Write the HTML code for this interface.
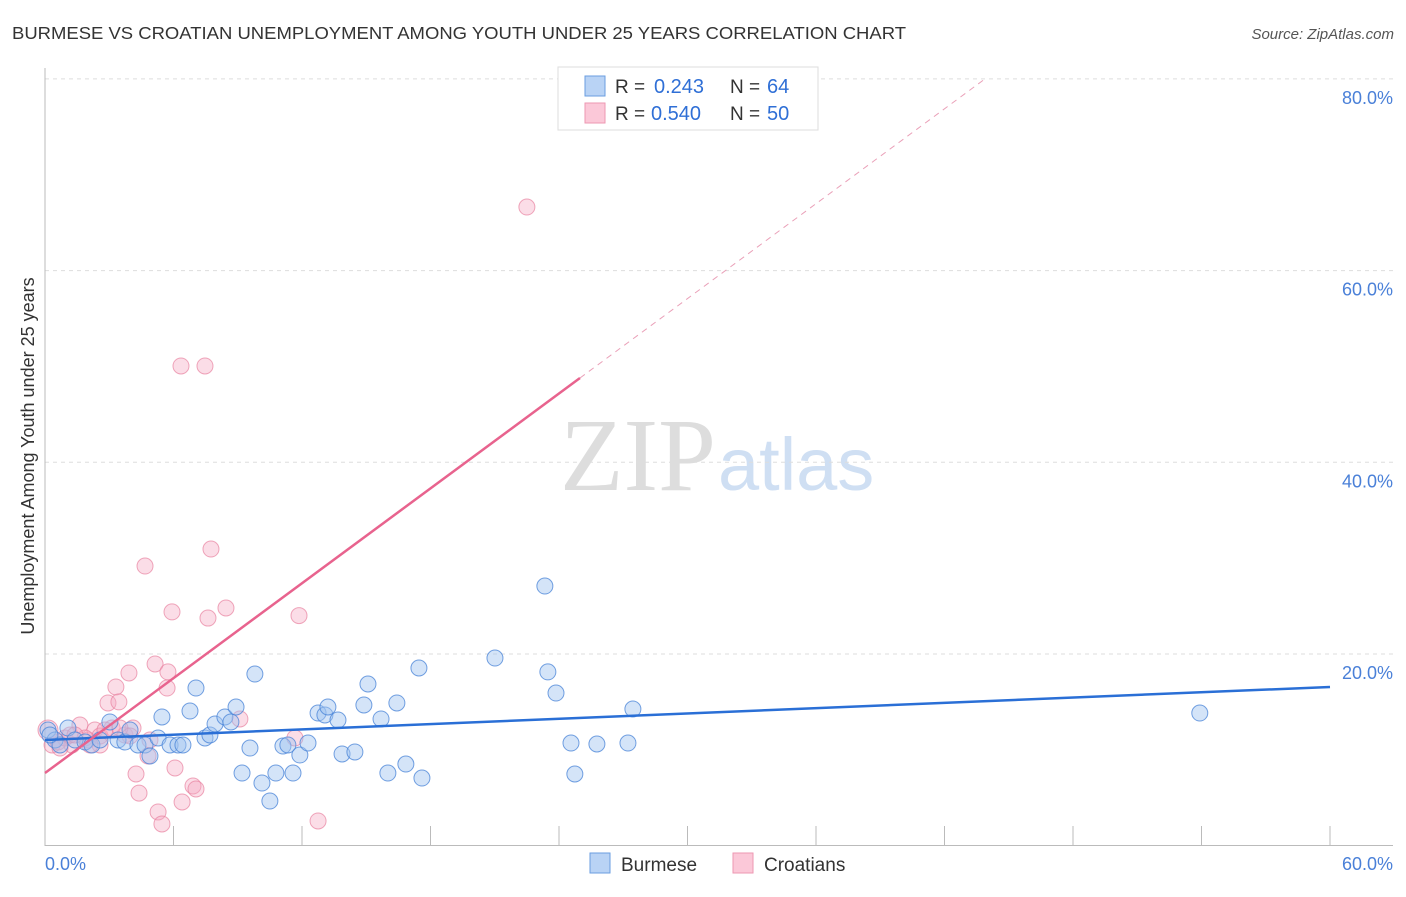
<!DOCTYPE html>
<html><head><meta charset="utf-8"><style>
body{margin:0;background:#fff;font-family:"Liberation Sans",sans-serif}
svg text{font-family:"Liberation Sans",sans-serif}
</style></head><body>
<svg id="c" width="1406" height="892">
<text x="12" y="39" font-size="17.5" fill="#333" textLength="894" lengthAdjust="spacingAndGlyphs">BURMESE VS CROATIAN UNEMPLOYMENT AMONG YOUTH UNDER 25 YEARS CORRELATION CHART</text>
<text x="1394" y="39" font-size="15" fill="#555" font-style="italic" text-anchor="end">Source: ZipAtlas.com</text>
<text x="716" y="490" font-size="104" fill="#ddd" text-anchor="end" style="font-family:'Liberation Serif',serif">ZIP</text>
<text x="718" y="490" font-size="74" fill="#cfdff3">atlas</text>
<g id="grid"></g><g id="marks"></g>
<text transform="translate(34,456) rotate(-90)" font-size="18" fill="#333" text-anchor="middle">Unemployment Among Youth under 25 years</text>
<g>
<rect x="558" y="67" width="260" height="63" fill="#fff" stroke="#ddd"/>
<rect x="585" y="76" width="20" height="20" fill="#b9d3f5" stroke="#6a9ee0"/>
<rect x="585" y="103" width="20" height="20" fill="#fbc8d8" stroke="#ee97b2"/>
<text x="615" y="93" font-size="19" fill="#333">R =</text><text x="654" y="93" font-size="20" fill="#2f6fd6">0.243</text>
<text x="730" y="93" font-size="19" fill="#333">N =</text><text x="767" y="93" font-size="20" fill="#2f6fd6">64</text>
<text x="615" y="120" font-size="19" fill="#333">R =</text><text x="651" y="120" font-size="20" fill="#2f6fd6">0.540</text>
<text x="730" y="120" font-size="19" fill="#333">N =</text><text x="767" y="120" font-size="20" fill="#2f6fd6">50</text>
</g>
<g>
<rect x="590" y="853" width="20" height="20" fill="#b9d3f5" stroke="#6a9ee0"/>
<text x="621" y="871" font-size="19" fill="#333">Burmese</text>
<rect x="733" y="853" width="20" height="20" fill="#fbc8d8" stroke="#ee97b2"/>
<text x="764" y="871" font-size="19" fill="#333">Croatians</text>
</g>
</svg>
<script>
const yTicks=[20,40,60,80];
const yTickLabels=["20.0%","40.0%","60.0%","80.0%"];
const xTickLabels=["0.0%","60.0%"];
const burX=[0.14,0.47,0.70,1.07,1.40,1.87,2.19,2.57,3.03,3.41,3.73,3.97,4.34,4.67,4.90,5.28,5.46,5.84,6.21,6.44,6.77,7.05,7.47,7.70,7.94,8.40,8.68,8.92,9.20,9.57,9.80,10.13,10.50,10.78,11.11,11.34,11.58,11.90,12.28,12.75,13.07,13.21,13.68,13.87,14.47,14.89,15.08,15.69,16.01,16.43,16.85,17.46,17.60,21.01,23.34,23.48,23.86,24.56,24.74,25.77,27.22,27.45,53.92,0.23];
const burY=[12.07,11.03,10.51,12.28,11.03,10.82,10.51,11.03,12.91,11.03,10.82,12.07,10.51,10.51,9.36,11.24,13.43,10.51,10.51,10.51,14.05,16.45,11.24,11.55,12.70,13.43,12.91,14.47,7.58,10.19,17.91,6.54,4.66,7.58,10.40,10.51,7.58,9.46,10.71,13.84,13.64,14.47,13.11,9.57,9.78,14.68,16.87,13.22,7.58,14.89,8.52,18.54,7.06,19.58,27.09,18.13,15.93,10.71,7.48,10.61,10.71,14.26,13.84,11.55];
const croX=[0.14,0.33,0.61,0.93,1.26,1.63,2.01,2.33,2.57,2.94,3.13,3.31,3.45,3.73,3.92,4.11,4.25,4.39,4.67,4.81,5.14,5.28,5.46,5.70,5.74,5.93,6.07,6.35,6.40,6.91,7.05,7.47,7.61,7.75,8.45,9.10,11.67,11.86,12.75,22.50,0.70,1.17,1.87,2.57,1.40,2.10,2.80,3.50,3.97,4.90];
const croY=[12.07,10.51,10.82,11.24,10.51,12.59,11.03,12.07,11.45,14.89,12.28,16.56,15.00,11.55,18.02,12.28,7.48,5.49,29.18,9.36,18.96,3.52,2.27,16.45,18.13,24.39,8.11,50.05,4.56,6.23,5.92,50.05,23.75,30.95,24.80,13.22,11.24,24.01,2.58,66.63,10.19,11.55,11.24,10.51,11.55,10.51,12.07,12.28,11.45,11.03];
const burTrend=[11.03,16.56];
const croTrend=[7.58,1.65];
const NS="http://www.w3.org/2000/svg";
const X=v=>45+v*1285/60, Y=v=>845.7-v*9.585;
function mk(tag,at,parent){const e=document.createElementNS(NS,tag);for(const k in at)e.setAttribute(k,at[k]);parent.appendChild(e);return e;}
const g=document.getElementById('grid'),m=document.getElementById('marks');
yTicks.forEach((t,i)=>{
 const l=mk('line',{x1:45,x2:1393,y1:Y(t),y2:Y(t),stroke:'#ddd','stroke-dasharray':'4,4'},g);
 
 
 const tx=mk('text',{x:1393,y:Y(t)+25,'font-size':18,fill:'#4a80d8','text-anchor':'end'},g);tx.textContent=yTickLabels[i];
 
 
});
const ax=mk('line',{x1:45,x2:45,y1:68,y2:846,stroke:'#bbb'},g);


const bx=mk('line',{x1:45,x2:1393,y1:845.5,y2:845.5,stroke:'#bbb'},g);


for(let i=1;i<=10;i++){const t=mk('line',{x1:X(i*6),x2:X(i*6),y1:826,y2:845,stroke:'#bbb'},g);
 
 }
[[0,'start',45],[60,'end',1393]].forEach((a,i)=>{const t=mk('text',{x:a[2],y:870,'font-size':18,fill:'#4a80d8','text-anchor':a[1]},g);t.textContent=xTickLabels[i];
 
 });
croX.forEach((v,i)=>{const c=mk('circle',{cx:X(v),cy:Y(croY[i]),r:i==0?10:8,fill:'rgba(246,170,195,0.4)',stroke:'rgba(232,130,160,0.7)','stroke-width':1},m);
 
 });
burX.forEach((v,i)=>{const c=mk('circle',{cx:X(v),cy:Y(burY[i]),r:8,fill:'rgba(160,195,240,0.45)',stroke:'rgba(70,130,215,0.75)','stroke-width':1},m);
 
 });
const bt=mk('line',{x1:X(0),y1:Y(burTrend[0]),x2:X(60),y2:Y(burTrend[1]),stroke:'#2a6fd6','stroke-width':2.5},m);


const xe=24.98,xd=(80-croTrend[0])/croTrend[1];
const ct=mk('line',{x1:X(0),y1:Y(croTrend[0]),x2:X(xe),y2:Y(croTrend[0]+croTrend[1]*xe),stroke:'#e8638e','stroke-width':2.5},m);


const cd=mk('line',{x1:X(xe),y1:Y(croTrend[0]+croTrend[1]*xe),x2:X(xd),y2:Y(80),stroke:'#eaa0b8','stroke-width':1,'stroke-dasharray':'6,5'},m);


</script>
</body></html>
